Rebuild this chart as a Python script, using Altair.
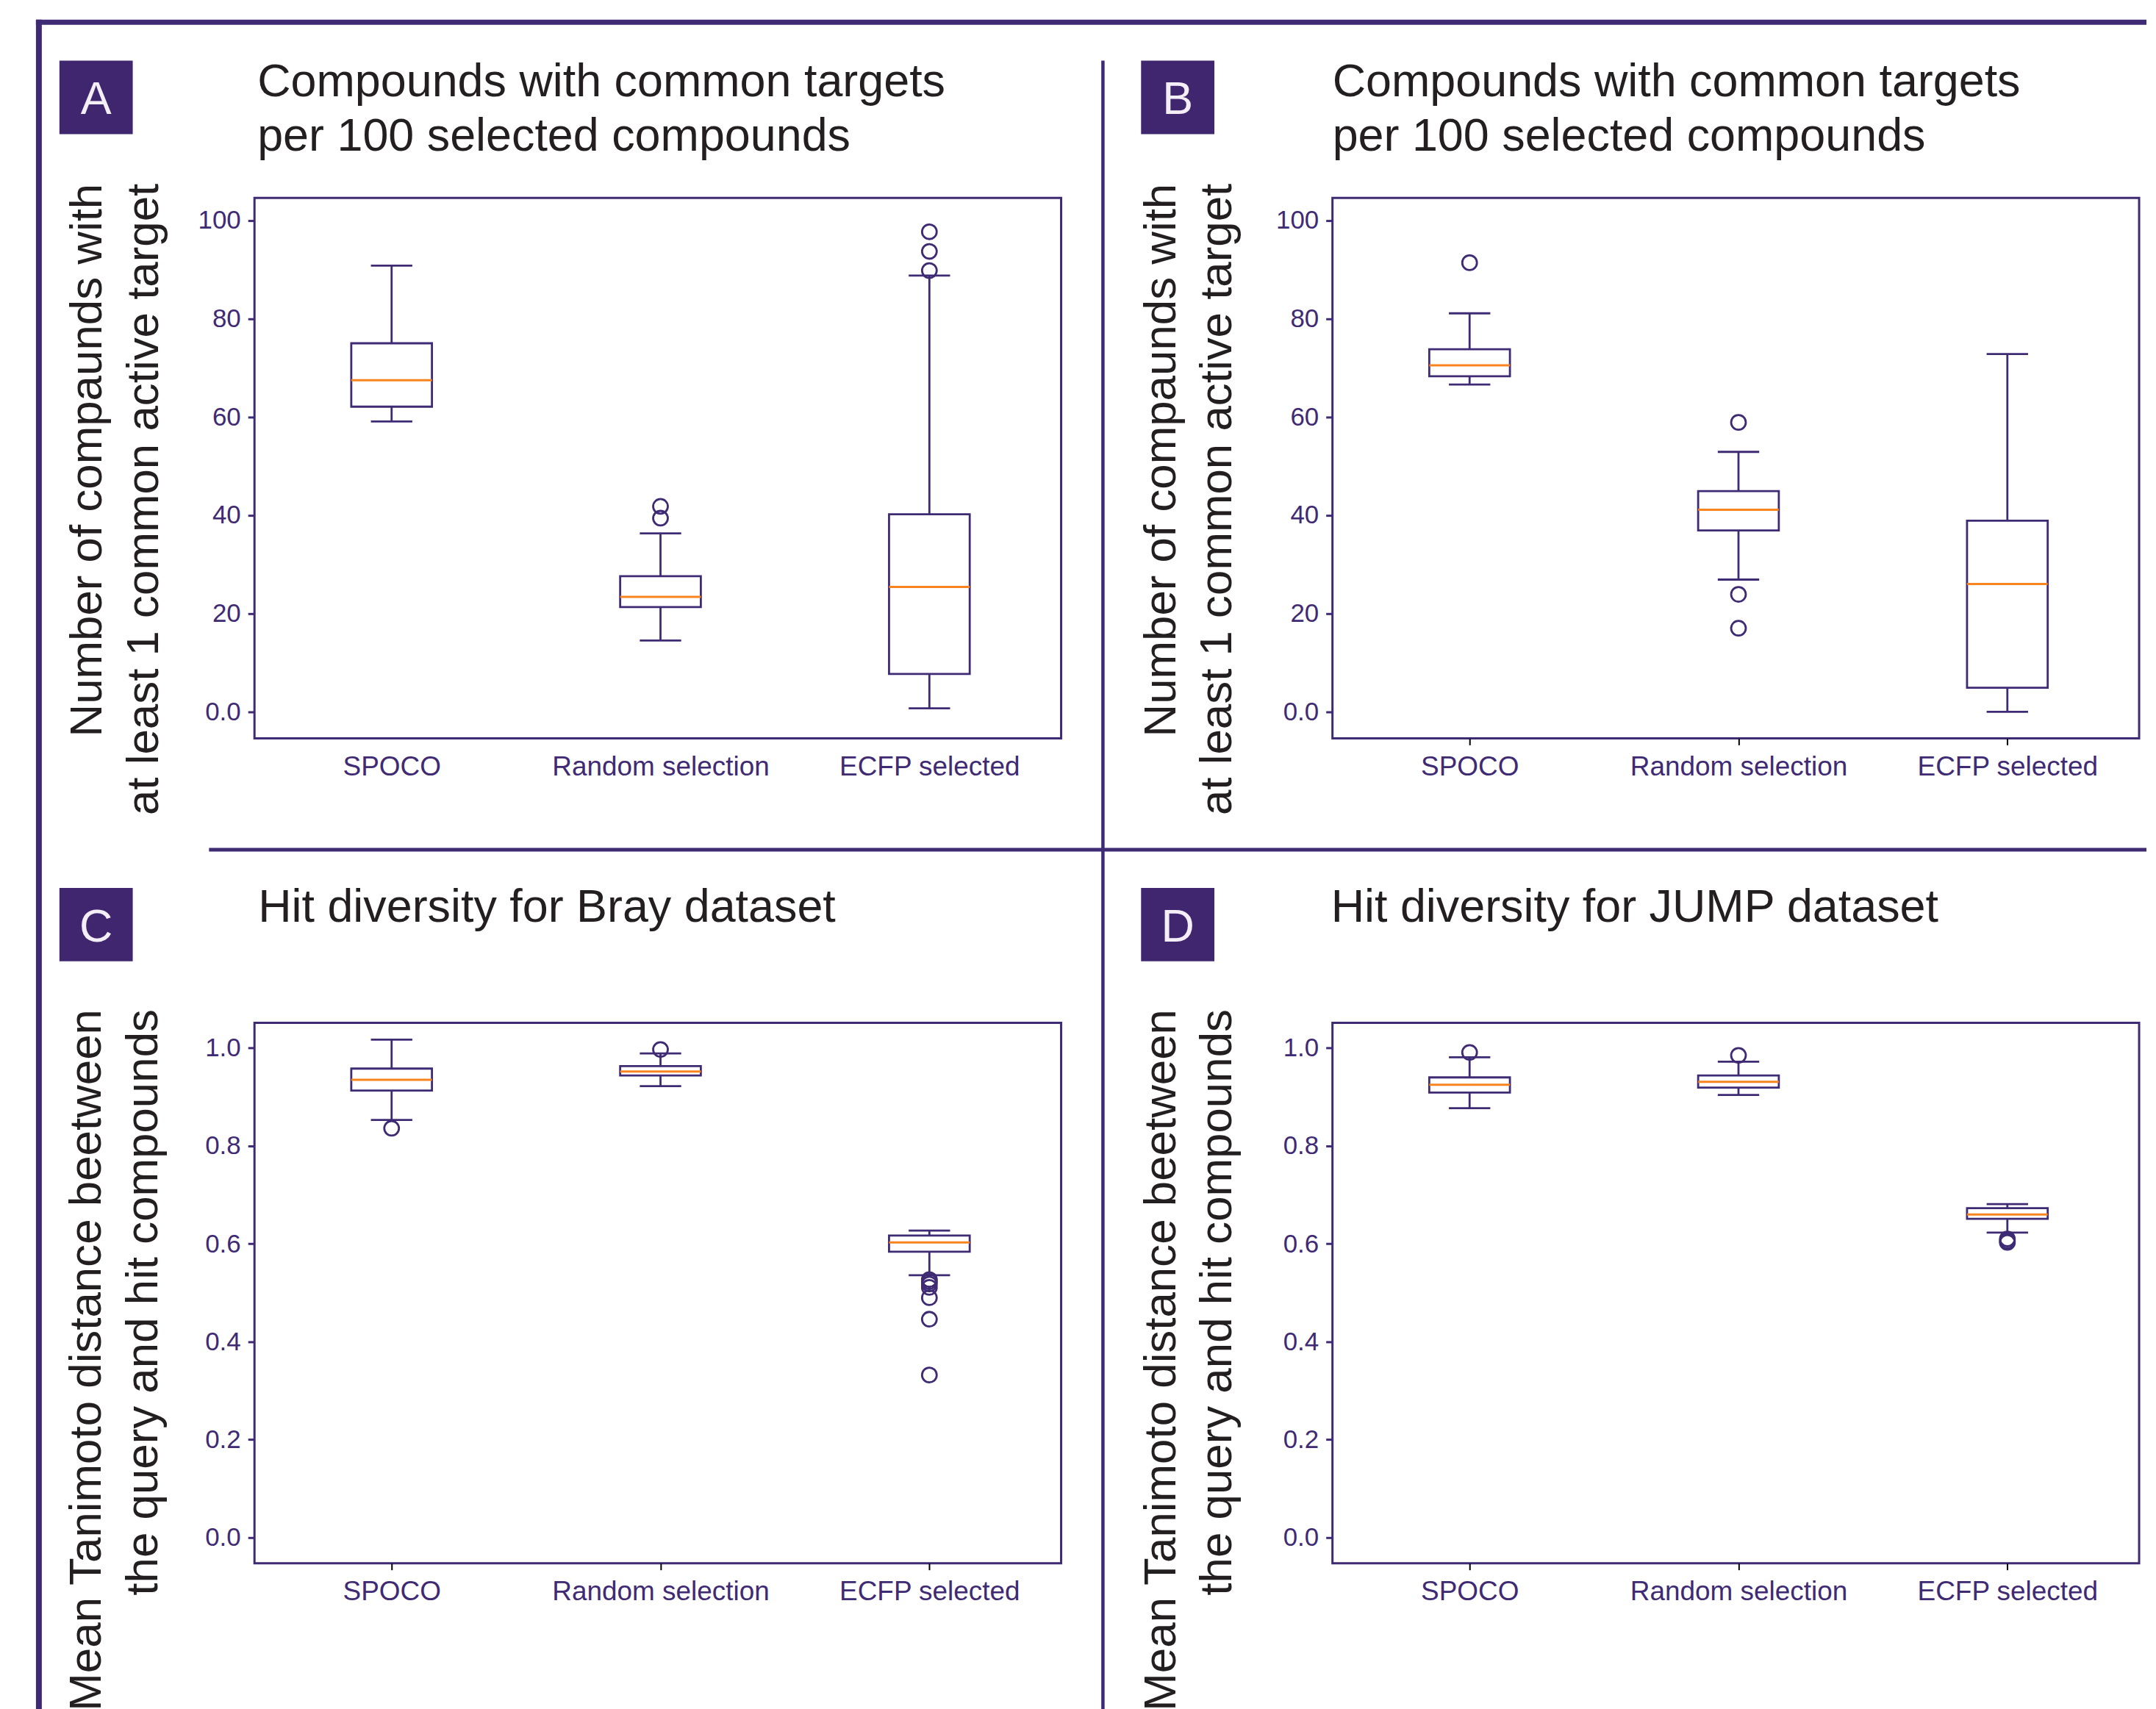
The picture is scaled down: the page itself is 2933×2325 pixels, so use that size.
import json
import pandas as pd
import altair as alt

# ---------------- data ----------------
CATEGORIES = ["SPOCO", "Random selection", "ECFP selected"]

# Panel A: compounds with common targets (Bray)
A_LO = [59.1, 14.5, 0.7]
A_Q1 = [62.1, 21.3, 7.7]
A_MED = [67.5, 23.4, 25.4]
A_Q3 = [75.0, 27.6, 40.2]
A_HI = [90.8, 36.3, 88.8]
A_OUT_CAT = ["Random selection", "Random selection", "ECFP selected", "ECFP selected", "ECFP selected"]
A_OUT_VAL = [41.8, 39.4, 97.7, 93.7, 89.8]

# Panel B: compounds with common targets (JUMP)
B_LO = [66.6, 26.9, 0.0]
B_Q1 = [68.3, 36.9, 4.9]
B_MED = [70.5, 41.1, 26.0]
B_Q3 = [73.8, 44.9, 38.9]
B_HI = [81.1, 52.9, 72.8]
B_OUT_CAT = ["SPOCO", "Random selection", "Random selection", "Random selection"]
B_OUT_VAL = [91.4, 58.9, 23.9, 17.0]

# Panel C: hit diversity, Bray dataset
C_LO = [0.853, 0.922, 0.536]
C_Q1 = [0.913, 0.944, 0.584]
C_MED = [0.935, 0.952, 0.603]
C_Q3 = [0.958, 0.963, 0.617]
C_HI = [1.017, 0.989, 0.627]
C_OUT_CAT = ["SPOCO", "Random selection"] + ["ECFP selected"] * 7
C_OUT_VAL = [0.836, 0.997, 0.527, 0.523, 0.518, 0.511, 0.490, 0.446, 0.332]

# Panel D: hit diversity, JUMP dataset
D_LO = [0.877, 0.904, 0.623]
D_Q1 = [0.909, 0.919, 0.651]
D_MED = [0.925, 0.931, 0.660]
D_Q3 = [0.940, 0.944, 0.673]
D_HI = [0.981, 0.972, 0.681]
D_OUT_CAT = ["SPOCO", "Random selection", "ECFP selected", "ECFP selected", "ECFP selected"]
D_OUT_VAL = [0.991, 0.985, 0.610, 0.606, 0.603]

COUNT_TICKS = [0, 20, 40, 60, 80, 100]
DIST_TICKS = [0.0, 0.2, 0.4, 0.6, 0.8, 1.0]

TITLE_COUNT = ["Compounds with common targets", "per 100 selected compounds"]
TITLE_BRAY = ["Hit diversity for Bray dataset"]
TITLE_JUMP = ["Hit diversity for JUMP dataset"]
YTITLE_COUNT = ["Number of compaunds with", "at least 1 common active target"]
YTITLE_DIST = ["Mean Tanimoto distance beetween", "the query and hit compounds"]

# ---------------- style ----------------
PURPLE = "#3f2a74"
LABEL_FILL = "#40256f"
LETTER_COLOR = "#f4eef6"
ORANGE = "#f7841f"
INK = "#231f20"
FONT = "Liberation Sans"
W, H = 1100, 737
X_DOMAIN = [0.49, 3.49]
BOX_HALF = 0.15
CAP_HALF = 0.077
LW = 2.8


def one_row():
    return alt.Data(values=[{}])


def text_mark(txt, x, y, size, color, align="left"):
    return alt.Chart(one_row()).mark_text(
        font=FONT, fontSize=size, color=color, align=align, baseline="alphabetic"
    ).encode(x=alt.value(x), y=alt.value(y), text=alt.value(txt))


def hrule(x0, x1, y, width):
    return alt.Chart(one_row()).mark_rule(color=PURPLE, strokeWidth=width).encode(
        x=alt.value(x0), x2=alt.value(x1), y=alt.value(y)
    )


def vrule(x, y0, y1, width):
    return alt.Chart(one_row()).mark_rule(color=PURPLE, strokeWidth=width).encode(
        x=alt.value(x), y=alt.value(y0), y2=alt.value(y1)
    )


def panel(lo, q1, med, q3, hi, out_cat, out_val, y_domain, y_ticks, y_label_expr,
          y_title, ytitle_x, ytitle_y, title_lines, title_x, title_y,
          letter, box_x, box_y, show_xticks, extra):
    df = pd.DataFrame({"cat": CATEGORIES, "lo": lo, "q1": q1, "med": med, "q3": q3, "hi": hi})
    df["pos"] = [CATEGORIES.index(c) + 1 for c in df["cat"]]
    od = pd.DataFrame({"cat": out_cat, "val": out_val})
    od["pos"] = [CATEGORIES.index(c) + 1 for c in od["cat"]]

    xs = alt.Scale(domain=X_DOMAIN, nice=False, zero=False)
    ys = alt.Scale(domain=y_domain, nice=False, zero=False)

    xaxis = alt.Axis(
        values=[1, 2, 3], labelExpr=json.dumps(CATEGORIES) + "[datum.value - 1]",
        title=None, grid=False, domain=False, labelFont=FONT, labelFontSize=37,
        labelColor=PURPLE, labelPadding=12, labelLimit=0, tickSize=9, tickWidth=2,
        tickColor="#000000", tickOpacity=1 if show_xticks else 0,
    )
    yaxis = alt.Axis(
        values=y_ticks, labelExpr=y_label_expr, title=y_title, grid=False, domain=False,
        labelFont=FONT, labelFontSize=35, labelColor=PURPLE, labelPadding=10,
        tickSize=9, tickWidth=3, tickColor=PURPLE,
        titleFont=FONT, titleFontSize=62, titleFontWeight="normal", titleColor=INK,
        titleAngle=270, titleAlign="right", titleBaseline="alphabetic",
        titleX=ytitle_x, titleY=ytitle_y, titleLineHeight=77, titleLimit=0,
    )

    def X(f):
        return alt.X(f, scale=xs, axis=xaxis)

    def Y(f):
        return alt.Y(f, scale=ys, axis=yaxis)

    base = alt.Chart(df).transform_calculate(
        b0=f"datum.pos - {BOX_HALF}", b1=f"datum.pos + {BOX_HALF}",
        c0=f"datum.pos - {CAP_HALF}", c1=f"datum.pos + {CAP_HALF}",
    )
    whisker = base.mark_rule(color=PURPLE, strokeWidth=LW).encode(
        x=X("pos:Q"), y=Y("lo:Q"), y2="hi:Q",
    )
    cap_lo = base.mark_rule(color=PURPLE, strokeWidth=LW).encode(
        x=X("c0:Q"), x2="c1:Q", y=Y("lo:Q"),
    )
    cap_hi = base.mark_rule(color=PURPLE, strokeWidth=LW).encode(
        x=X("c0:Q"), x2="c1:Q", y=Y("hi:Q"),
    )
    box = base.mark_rect(fill="white", stroke=PURPLE, strokeWidth=LW).encode(
        x=X("b0:Q"), x2="b1:Q", y=Y("q1:Q"), y2="q3:Q",
    )
    median = base.mark_rule(color=ORANGE, strokeWidth=3).encode(
        x=X("b0:Q"), x2="b1:Q", y=Y("med:Q"),
    )
    fliers = alt.Chart(od).mark_point(
        shape="circle", filled=False, size=400, color=PURPLE, strokeWidth=LW, opacity=1
    ).encode(x=X("pos:Q"), y=Y("val:Q"))

    label_box = alt.Chart(one_row()).mark_rect(color=LABEL_FILL).encode(
        x=alt.value(box_x), x2=alt.value(box_x + 100),
        y=alt.value(box_y), y2=alt.value(box_y + 100),
    )
    label_letter = text_mark(letter, box_x + 50, box_y + 73, 63, LETTER_COLOR, align="center")
    titles = [text_mark(t, title_x, title_y + 75 * i, 63, INK) for i, t in enumerate(title_lines)]

    return alt.layer(
        whisker, cap_lo, cap_hi, box, median, fliers, *extra, label_box, label_letter, *titles
    ).properties(width=W, height=H)


count_expr = "datum.value === 0 ? '0.0' : format(datum.value, 'd')"
dist_expr = "format(datum.value, '.1f')"

pA = panel(A_LO, A_Q1, A_MED, A_Q3, A_HI, A_OUT_CAT, A_OUT_VAL, [-5.4, 104.6], COUNT_TICKS,
           count_expr, YTITLE_COUNT, -209, -20, TITLE_COUNT, 4, -139, "A", -266, -187, False,
           [hrule(-298, 2580, -239.5, 7), vrule(-294, -243, 2070, 8)])
pB = panel(B_LO, B_Q1, B_MED, B_Q3, B_HI, B_OUT_CAT, B_OUT_VAL, [-5.4, 104.6], COUNT_TICKS,
           count_expr, YTITLE_COUNT, -215, -20, TITLE_COUNT, 0, -139, "B", -261, -187, True,
           [vrule(-313, -187, 2070, 4.5)])
pC = panel(C_LO, C_Q1, C_MED, C_Q3, C_HI, C_OUT_CAT, C_OUT_VAL, [-0.0525, 1.0515], DIST_TICKS,
           dist_expr, YTITLE_DIST, -210, -19, TITLE_BRAY, 5, -138, "C", -266, -184, True,
           [hrule(-62, 2580, -236, 5)])
pD = panel(D_LO, D_Q1, D_MED, D_Q3, D_HI, D_OUT_CAT, D_OUT_VAL, [-0.0525, 1.0515], DIST_TICKS,
           dist_expr, YTITLE_DIST, -215, -19, TITLE_JUMP, -2, -138, "D", -261, -184, True,
           [])

# Vega pads rule bounds by the stroke width; padding places panel A's plot area
# at about page (345, 269).
chart = alt.concat(
    pA, pB, pC, pD, columns=2, spacing={"row": 388, "column": 370}, bounds="flush"
).properties(
    padding={"left": 36, "top": 10, "right": 0, "bottom": 0}
).configure(font=FONT).configure_view(stroke=PURPLE, strokeWidth=3)

chart.save("out.html", embed_options={"renderer": "svg", "actions": False})
